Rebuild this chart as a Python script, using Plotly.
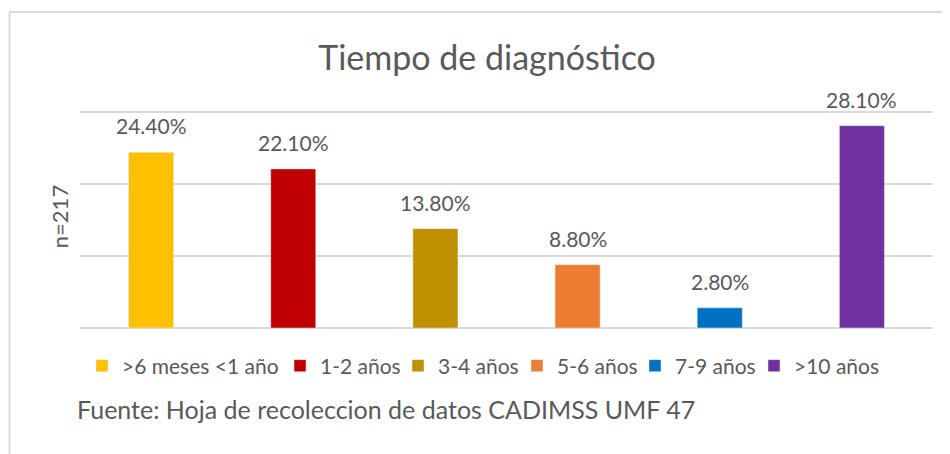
import plotly.graph_objects as go

categories = [">6 meses <1 año", "1-2 años", "3-4 años", "5-6 años", "7-9 años", ">10 años"]
values = [24.4, 22.1, 13.8, 8.8, 2.8, 28.1]
colors = ["#FFC000", "#C00000", "#BF9000", "#ED7D31", "#0070C0", "#7030A0"]

title_text = "Tiempo de diagnóstico"
y_title = "n=217"
source_text = "Fuente: Hoja de recoleccion de datos CADIMSS UMF 47"

FONT = "Lato"
TXT = "#595959"
GRID = "#D9D9D9"

# page body has an 8px margin; figure sized to fit the 950x454 window
OFF = 8
W, H = 942, 446
L, R, T, B = 72, 17, 97, 126
pw, ph = W - L - R, H - T - B
YMAX = 30 * ph / 216.0  # keeps 30% at the top gridline position


def px_x(px):
    return (px - OFF - L) / pw


def px_y(py):
    return (H - B - (py - OFF)) / ph


# legend text left edges (screen px) for each entry
legend_text_x = [122, 320, 438, 557, 675, 794]

fig = go.Figure()
for i, (c, v, col) in enumerate(zip(categories, values, colors)):
    fig.add_trace(go.Bar(x=[c], y=[v], name=c, marker_color=col, width=0.317,
                         hoverinfo="skip",
                         legend="legend" if i == 0 else f"legend{i + 1}"))

for c, v in zip(categories, values):
    fig.add_annotation(x=c, y=v, text=f"{v:.2f}%", showarrow=False,
                       yanchor="bottom", yshift=12,
                       font=dict(family=FONT, size=21, color=TXT))

fig.add_annotation(xref="paper", yref="paper", x=px_x(75), y=px_y(409),
                   xanchor="left", yanchor="middle", showarrow=False,
                   text=source_text, font=dict(family=FONT, size=25, color=TXT))

# chart border (top and left)
fig.add_shape(type="line", xref="paper", yref="paper",
              x0=px_x(9), x1=px_x(950), y0=px_y(12), y1=px_y(12),
              line=dict(color=GRID, width=2))
fig.add_shape(type="line", xref="paper", yref="paper",
              x0=px_x(9.5), x1=px_x(9.5), y0=px_y(12), y1=px_y(454),
              line=dict(color=GRID, width=2))

legend_style = dict(orientation="h", xanchor="left", yanchor="middle",
                    font=dict(family=FONT, size=21, color=TXT),
                    itemwidth=30, bgcolor="rgba(0,0,0,0)")
legends = {}
for i, tx in enumerate(legend_text_x):
    key = "legend" if i == 0 else f"legend{i + 1}"
    legends[key] = dict(legend_style, x=px_x(tx - 40), y=px_y(366))

fig.update_layout(
    width=W, height=H,
    margin=dict(l=L, r=R, t=T, b=B),
    paper_bgcolor="white", plot_bgcolor="white",
    barmode="overlay",
    title=dict(text=title_text, x=px_x(487), xref="paper", xanchor="center",
               y=(H - (58 - OFF)) / H, yanchor="middle",
               font=dict(family=FONT, size=34, color=TXT)),
    xaxis=dict(showticklabels=False, showgrid=False, zeroline=False,
               showline=False, ticks=""),
    yaxis=dict(range=[0, YMAX], tickvals=[0, 10, 20, 30], showticklabels=False,
               showgrid=True, gridcolor=GRID, gridwidth=2, zeroline=True,
               zerolinecolor=GRID, zerolinewidth=2, ticks="",
               title=dict(text=y_title, standoff=4,
                          font=dict(family=FONT, size=22, color=TXT))),
    showlegend=True,
    **legends,
)

fig.write_html("out.html")
